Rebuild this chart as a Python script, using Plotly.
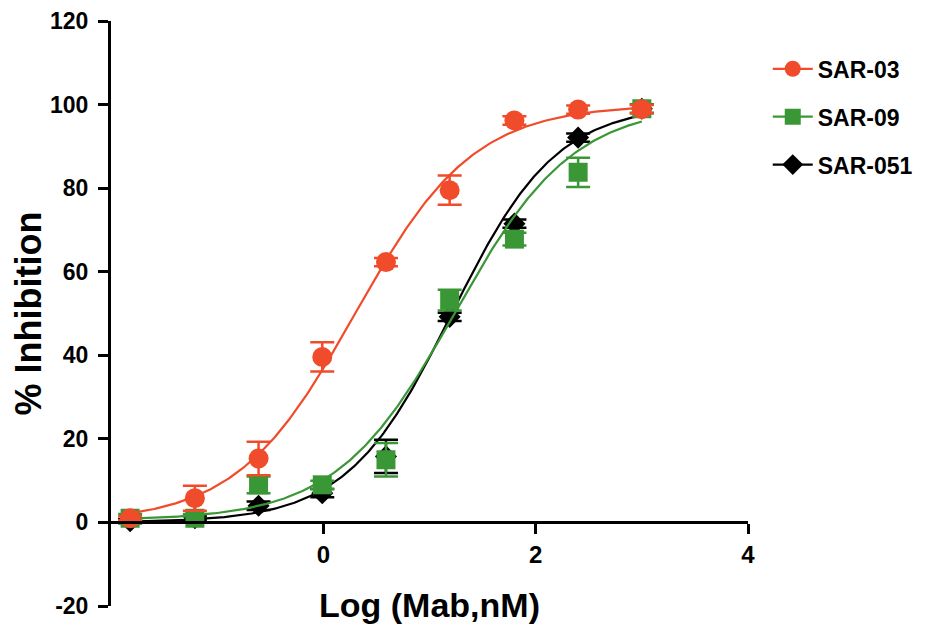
import numpy as np
import plotly.graph_objects as go

# ---- data ----
log_conc = [-1.82, -1.21, -0.61, -0.01, 0.59, 1.19, 1.80, 2.40, 3.00]

sar03_y = [1.0, 5.8, 15.3, 39.6, 62.3, 79.5, 96.2, 98.8, 98.9]
sar03_err = [0.5, 3.0, 4.0, 3.5, 1.0, 3.5, 1.0, 1.0, 1.0]

sar09_y = [1.0, 1.0, 9.0, 9.0, 15.0, 53.2, 67.8, 83.8, 99.0]
sar09_err = [1.0, 1.0, 2.0, 1.0, 4.0, 2.5, 1.5, 3.5, 1.0]

sar051_y = [0.3, 1.0, 4.0, 7.0, 15.8, 49.2, 71.5, 92.1, 99.0]
sar051_err = [0.5, 0.5, 1.0, 1.0, 4.0, 1.0, 1.0, 1.0, 1.0]

# 4-parameter logistic fit parameters: bottom, top, logIC50, hill
fit_sar03 = [0.0, 100.0, 0.30, 0.78]
fit_sar09 = [0.5, 100.0, 1.24, 0.78]
fit_sar051 = [0.0, 100.0, 1.21, 0.88]

series_names = ["SAR-03", "SAR-09", "SAR-051"]
x_ticks = [0, 2, 4]
y_ticks = [-20, 0, 20, 40, 60, 80, 100, 120]

RED = "#F04B2A"
GREEN = "#3A9736"
BLACK = "#000000"
FONT = "Arial, Liberation Sans, sans-serif"


def four_pl(x, p):
    bottom, top, logic50, hill = p
    return bottom + (top - bottom) / (1 + 10 ** ((logic50 - x) * hill))


xs = np.linspace(min(log_conc), max(log_conc), 300)

fig = go.Figure()

series = [
    ("SAR-051", sar051_y, sar051_err, fit_sar051, BLACK, "diamond", 17),
    ("SAR-09", sar09_y, sar09_err, fit_sar09, GREEN, "square", 19),
    ("SAR-03", sar03_y, sar03_err, fit_sar03, RED, "circle", 20),
]

for name, ys, errs, fit, color, sym, msize in series:
    fig.add_trace(go.Scatter(
        x=xs, y=four_pl(xs, fit), mode="lines",
        line=dict(color=color, width=2.2), showlegend=False, hoverinfo="skip"))
    fig.add_trace(go.Scatter(
        x=log_conc, y=ys, mode="markers",
        marker=dict(color=color, symbol=sym, size=msize, line=dict(width=0)),
        error_y=dict(type="data", array=errs, visible=True, color=color,
                     thickness=2.5, width=12),
        showlegend=False, name=name))

legend_style = {
    "SAR-03": (RED, "circle", 20),
    "SAR-09": (GREEN, "square", 19),
    "SAR-051": (BLACK, "diamond", 17),
}
for i, name in enumerate(series_names):
    color, sym, msize = legend_style[name]
    fig.add_trace(go.Scatter(
        x=[None], y=[None], mode="lines+markers", name=name,
        line=dict(color=color, width=2.2),
        marker=dict(color=color, symbol=sym, size=msize),
        legendgroup=name, legendrank=i + 1))

fig.update_layout(
    width=927, height=629,
    margin=dict(l=103, r=187, t=13, b=31, autoexpand=False),
    paper_bgcolor="white", plot_bgcolor="white",
    font=dict(family=FONT, color="black"),
    legend=dict(
        x=1.031, y=0.955, xanchor="left", yanchor="top",
        font=dict(size=23, family=FONT, weight="bold"),
        itemwidth=40, tracegroupgap=15, bgcolor="rgba(0,0,0,0)"),
    xaxis=dict(
        range=[-2, 4], tickvals=x_ticks, ticktext=[str(t) for t in x_ticks],
        showline=True, linecolor="black", linewidth=3,
        ticks="outside", ticklen=10, tickwidth=3, tickcolor="black",
        showgrid=False, zeroline=False, automargin=False,
        anchor="free", position=20 / 140,
        tickfont=dict(size=24, family=FONT, weight="bold"),
        title=dict(text="Log (Mab,nM)", standoff=25,
                   font=dict(size=34, family=FONT, weight="bold")),
    ),
    yaxis=dict(
        range=[-20, 120], tickvals=y_ticks, ticktext=[str(t) for t in y_ticks],
        showline=True, linecolor="black", linewidth=3,
        ticks="outside", ticklen=10, tickwidth=3, tickcolor="black",
        showgrid=False, zeroline=False, automargin=False,
        ticklabelstandoff=5, ticklabeloverflow="allow",
        tickfont=dict(size=23, family=FONT, weight="bold"),
        title=dict(text="% Inhibition", standoff=10,
                   font=dict(size=36, family=FONT, weight="bold")),
    ),
)

fig.write_html("out.html")
